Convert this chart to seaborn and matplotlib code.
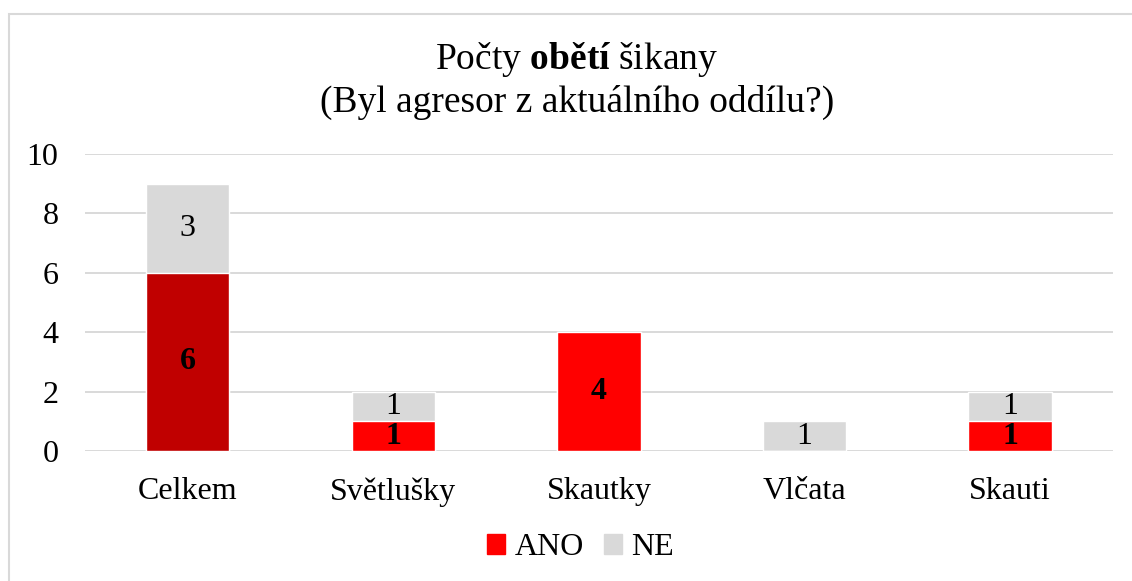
import pandas as pd
import seaborn as sns
import matplotlib.pyplot as plt
from matplotlib.patches import Patch, Rectangle

# data
kategorie = ["Celkem", "Světlušky", "Skautky", "Vlčata", "Skauti"]
ano = [6, 1, 4, 0, 1]
ne = [3, 1, 0, 1, 1]
barvy_ano = ["#C00000", "#FF0000", "#FF0000", "#FF0000", "#FF0000"]
barva_ne = "#D9D9D9"

df = pd.DataFrame({"kategorie": kategorie, "ANO": ano, "NE": ne})
df["celkem"] = df["ANO"] + df["NE"]

sns.set_theme(style="white")
plt.rcParams["font.family"] = ["Liberation Serif", "DejaVu Serif"]
plt.rcParams["text.color"] = "black"
plt.rcParams["mathtext.fontset"] = "custom"
plt.rcParams["mathtext.rm"] = "Liberation Serif"
plt.rcParams["mathtext.bf"] = "Liberation Serif:bold"

fig = plt.figure(figsize=(11.32, 5.81), dpi=100)
ax = fig.add_axes([0.0751, 0.2238, 0.908, 0.511])

# stacked: total in grey, ANO over it
sns.barplot(data=df, x="kategorie", y="celkem", color=barva_ne, width=0.405,
            saturation=1, errorbar=None, ax=ax)
sns.barplot(data=df, x="kategorie", y="ANO", hue="kategorie", palette=barvy_ano,
            width=0.405, saturation=1, errorbar=None, legend=False, ax=ax)

for i in range(len(kategorie)):
    if ano[i] > 0:
        ax.text(i, ano[i] / 2, str(ano[i]), ha="center", va="center",
                fontsize=23, fontweight="bold", color="black")
    if ne[i] > 0:
        ax.text(i, ano[i] + ne[i] / 2, str(ne[i]), ha="center", va="center",
                fontsize=23, color="black")

ax.set_ylim(0, 10)
ax.set_yticks(range(0, 11, 2))
ax.set_xlim(-0.5, 4.5)
ax.yaxis.grid(True, color="#D9D9D9", lw=1.4)
ax.set_axisbelow(True)
for s in ax.spines.values():
    s.set_visible(False)
ax.tick_params(axis="y", length=0, pad=19, labelsize=23, labelcolor="black")
ax.tick_params(axis="x", length=0, pad=19, labelsize=23, labelcolor="black")
ax.set_xlabel("")
ax.set_ylabel("")

fig.text(0.5097, 0.897, r"Počty $\mathbf{obětí}$ šikany", ha="center", va="center",
         fontsize=27, color="black")
fig.text(0.5097, 0.824, "(Byl agresor z aktuálního oddílu?)", ha="center", va="center",
         fontsize=27, color="black")

handles = [Patch(color="#FF0000"), Patch(color=barva_ne)]
fig.legend(handles, ["ANO", "NE"], loc="center", bbox_to_anchor=(0.513, 0.057),
           ncol=2, frameon=False, fontsize=23, handlelength=0.55, handleheight=0.55,
           handletextpad=0.3, columnspacing=0.65, labelcolor="black")

fig.patches.append(Rectangle((9 / 1132, -0.1), 1.2, 1 - 13.5 / 581 + 0.1,
                             transform=fig.transFigure, fill=False,
                             edgecolor="#D9D9D9", lw=1.5))

fig.savefig("out.png", dpi=100)
